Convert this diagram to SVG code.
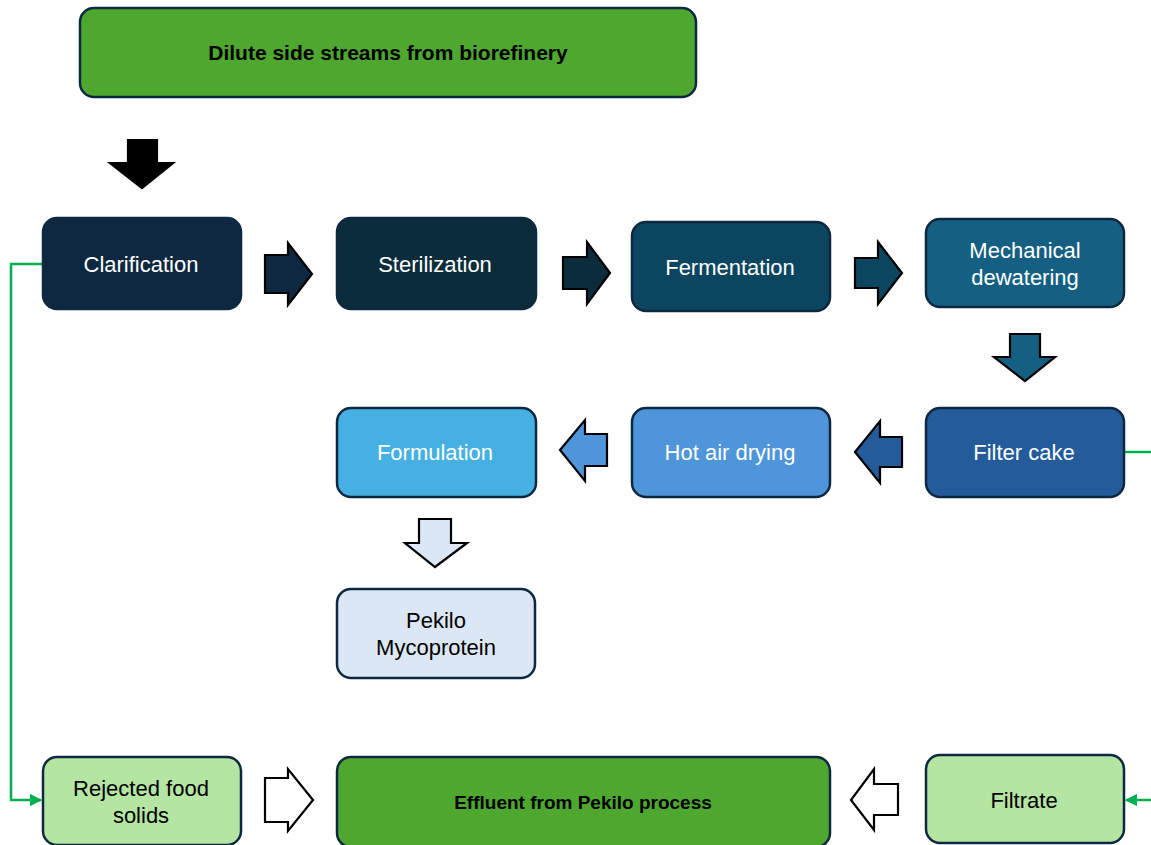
<svg xmlns="http://www.w3.org/2000/svg" width="1151" height="845" viewBox="0 0 1151 845">
<style>
.box{stroke:#0E2841;stroke-width:2.5}
.arr{stroke:#000;stroke-width:2.2;stroke-linejoin:miter}
.t{font-family:"Liberation Sans",Arial,sans-serif;font-size:22px;text-anchor:middle}
.w{fill:#fff}
.k{fill:#000}
.b{font-weight:bold;fill:#000}
.link{fill:none;stroke:#00B050;stroke-width:2.5}
</style>
<defs>
<marker id="gh" viewBox="0 0 10 10" refX="9" refY="5" markerWidth="5" markerHeight="5" markerUnits="strokeWidth" orient="auto">
<path d="M0,0 L10,5 L0,10 z" fill="#00B050"/>
</marker>
</defs>
<rect width="1151" height="845" fill="#fff"/>

<g id="connectors">
<path class="link" d="M43,264 H11 V800 H41" marker-end="url(#gh)"/>
<path class="link" d="M1124,452 H1155"/>
<path class="link" d="M1155,800 H1126" marker-end="url(#gh)"/>
<polygon class="arr" fill="#000" points="128,140 157,140 157,163 173,163 142,188 110,163 128,163"/>
<polygon class="arr" fill="#0E2841" points="265,255 288,255 288,243 312,274 288,305 288,293 265,293"/>
<polygon class="arr" fill="#0B2D3B" points="563,257 587,257 587,242 610,273 587,304 587,289 563,289"/>
<polygon class="arr" fill="#0B4560" points="855,258 878,258 878,242 902,273 878,304 878,288 855,288"/>
<polygon class="arr" fill="#156082" points="1010,334 1040,334 1040,357 1055,357 1025,381 994,357 1010,357"/>
<polygon class="arr" fill="#235B9B" points="902,437 880,437 880,421 855,452 880,483 880,467 902,467"/>
<polygon class="arr" fill="#4E95D9" points="607,434 585,434 585,420 560,450 585,481 585,466 607,466"/>
<polygon class="arr" fill="#DCE7F6" points="419,519 451,519 451,543 467,543 435,567 405,543 419,543"/>
<polygon class="arr" fill="#fff" points="265,778 288,778 288,769 313,800 288,831 288,822 265,822"/>
<polygon class="arr" fill="#fff" points="898,784 874,784 874,769 851,800 874,830 874,815 898,815"/>
</g>

<g id="source">
<rect class="box" x="80" y="8" width="616" height="89" rx="14" fill="#4EA72E"/>
<text class="t b" x="388" y="60" style="font-size:21px">Dilute side streams from biorefinery</text>
</g>
<g id="clarification">
<rect class="box" x="43" y="218" width="198" height="91" rx="14" fill="#0E2841"/>
<text class="t w" x="141" y="272">Clarification</text>
</g>
<g id="sterilization">
<rect class="box" x="337" y="218" width="199" height="91" rx="14" fill="#0B2D3B"/>
<text class="t w" x="435" y="272">Sterilization</text>
</g>
<g id="fermentation">
<rect class="box" x="632" y="222" width="198" height="89" rx="14" fill="#0B4560"/>
<text class="t w" x="730" y="275">Fermentation</text>
</g>
<g id="dewatering">
<rect class="box" x="926" y="219" width="198" height="88" rx="14" fill="#156082"/>
<text class="t w" x="1025" y="258">Mechanical</text>
<text class="t w" x="1025" y="285">dewatering</text>
</g>
<g id="filtercake">
<rect class="box" x="926" y="408" width="198" height="89" rx="14" fill="#235B9B"/>
<text class="t w" x="1024" y="460">Filter cake</text>
</g>
<g id="drying">
<rect class="box" x="632" y="408" width="198" height="89" rx="14" fill="#4E95D9"/>
<text class="t w" x="730" y="460">Hot air drying</text>
</g>
<g id="formulation">
<rect class="box" x="337" y="408" width="199" height="89" rx="14" fill="#45B0E1"/>
<text class="t w" x="435" y="460">Formulation</text>
</g>
<g id="mycoprotein">
<rect class="box" x="337" y="589" width="198" height="89" rx="14" fill="#DCE7F6"/>
<text class="t k" x="436" y="628">Pekilo</text>
<text class="t k" x="436" y="655">Mycoprotein</text>
</g>
<g id="rejected">
<rect class="box" x="43" y="757" width="198" height="88" rx="14" fill="#B4E5A2"/>
<text class="t k" x="141" y="796">Rejected food</text>
<text class="t k" x="141" y="823">solids</text>
</g>
<g id="effluent">
<rect class="box" x="337" y="757" width="493" height="90" rx="14" fill="#4EA72E"/>
<text class="t b" x="583" y="809" style="font-size:19px">Effluent from Pekilo process</text>
</g>
<g id="filtrate">
<rect class="box" x="926" y="755" width="198" height="88" rx="14" fill="#B4E5A2"/>
<text class="t k" x="1024" y="808">Filtrate</text>
</g>
</svg>
